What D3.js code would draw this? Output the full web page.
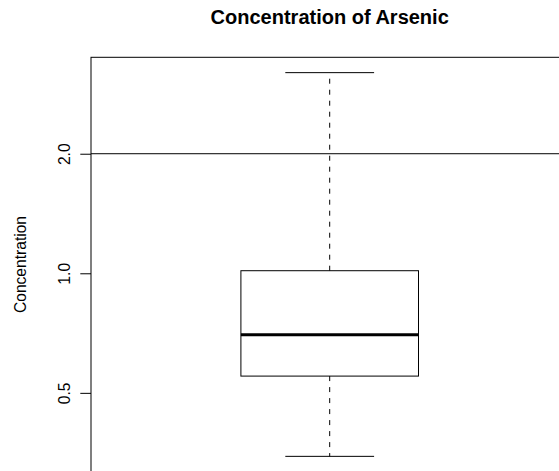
<!DOCTYPE html>
<html>
<head>
<meta charset="utf-8">
<script src="https://cdn.jsdelivr.net/npm/d3@7"></script>
<style>
  body { margin: 0; background: #fff; }
  svg { display: block; font-family: "Liberation Sans", Arial, Helvetica, sans-serif; }
</style>
</head>
<body>
<div id="chart"></div>
<script>
// boxplot stats (log scale)
var groups = [1];
var whiskerLow = [0.346];
var boxLow = [0.551];
var medians = [0.700];
var boxHigh = [1.015];
var whiskerHigh = [3.20];
var yTicks = [0.5, 1, 2];
var refLine = 2;

var w = 559;
var h = 471;
var padL = 91, padR = 568.4, padT = 57.3, padB = 471.7;

var svg = d3.select("#chart")
            .append("svg")
            .attr("width", w)
            .attr("height", h);

// R style: data range stretched by 4% each side, in log space
var lo = Math.log10(d3.min(whiskerLow)), hi = Math.log10(d3.max(whiskerHigh));
var ext = (hi - lo) * 0.04;

var yscale = d3.scaleLog()
               .domain([Math.pow(10, lo - ext), Math.pow(10, hi + ext)])
               .range([padB, padT]);

var xscale = d3.scaleLinear()
               .domain([0.5, 1.5])
               .range([padL, padR]);

var boxHalf = 0.186, capHalf = 0.093;

var g = svg.append("g");

// whiskers (dashed)
g.selectAll("line.whisk-up")
    .data(groups)
    .enter()
    .append("line")
    .attr("x1", function(d) { return xscale(d); })
    .attr("x2", function(d) { return xscale(d); })
    .attr("y1", function(d, i) { return yscale(boxHigh[i]); })
    .attr("y2", function(d, i) { return yscale(whiskerHigh[i]); })
    .attr("stroke", "#000")
    .attr("stroke-dasharray", "5,6");

g.selectAll("line.whisk-down")
    .data(groups)
    .enter()
    .append("line")
    .attr("x1", function(d) { return xscale(d); })
    .attr("x2", function(d) { return xscale(d); })
    .attr("y1", function(d, i) { return yscale(boxLow[i]); })
    .attr("y2", function(d, i) { return yscale(whiskerLow[i]); })
    .attr("stroke", "#000")
    .attr("stroke-dasharray", "5,6");

// caps
[whiskerHigh, whiskerLow].forEach(function(arr) {
    g.append("g")
        .selectAll("line")
        .data(groups)
        .enter()
        .append("line")
        .attr("x1", function(d) { return xscale(d - capHalf); })
        .attr("x2", function(d) { return xscale(d + capHalf); })
        .attr("y1", function(d, i) { return yscale(arr[i]); })
        .attr("y2", function(d, i) { return yscale(arr[i]); })
        .attr("stroke", "#000");
});

// box
g.selectAll("rect")
    .data(groups)
    .enter()
    .append("rect")
    .attr("x", function(d) { return xscale(d - boxHalf); })
    .attr("width", function(d) { return xscale(d + boxHalf) - xscale(d - boxHalf); })
    .attr("y", function(d, i) { return yscale(boxHigh[i]); })
    .attr("height", function(d, i) { return yscale(boxLow[i]) - yscale(boxHigh[i]); })
    .attr("fill", "none")
    .attr("stroke", "#000");

// median
g.selectAll("line.med")
    .data(groups)
    .enter()
    .append("line")
    .attr("x1", function(d) { return xscale(d - boxHalf); })
    .attr("x2", function(d) { return xscale(d + boxHalf); })
    .attr("y1", function(d, i) { return yscale(medians[i]); })
    .attr("y2", function(d, i) { return yscale(medians[i]); })
    .attr("stroke", "#000")
    .attr("stroke-width", 3);

// horizontal reference line
svg.append("line")
    .attr("x1", padL)
    .attr("x2", padR)
    .attr("y1", yscale(refLine))
    .attr("y2", yscale(refLine))
    .attr("stroke", "#000");

// plot frame
svg.append("rect")
    .attr("x", padL)
    .attr("y", padT)
    .attr("width", padR - padL)
    .attr("height", padB - padT)
    .attr("fill", "none")
    .attr("stroke", "#000");

// y axis
var yaxis = d3.axisLeft(yscale)
              .tickValues(yTicks)
              .tickFormat(d3.format(".1f"))
              .tickSize(10.7);

var ax = svg.append("g")
    .attr("transform", "translate(" + padL + ",0)")
    .call(yaxis);

ax.select(".domain").remove();
ax.selectAll("line").attr("stroke", "#000");
ax.selectAll("text")
    .attr("x", null)
    .attr("dy", null)
    .attr("transform", "translate(-21,0) rotate(-90)")
    .attr("text-anchor", "middle")
    .attr("fill", "#000")
    .style("font-size", "15.6px")
    .style("font-family", "Liberation Sans, Arial, sans-serif");

// axis title
svg.append("text")
    .attr("transform", "translate(26," + ((padT + padB) / 2) + ") rotate(-90)")
    .attr("text-anchor", "middle")
    .style("font-size", "15.6px")
    .text("Concentration");

// main title
svg.append("text")
    .attr("x", (padL + padR) / 2)
    .attr("y", 24)
    .attr("text-anchor", "middle")
    .style("font-size", "20px")
    .style("font-weight", "bold")
    .text("Concentration of Arsenic");
</script>
</body>
</html>
